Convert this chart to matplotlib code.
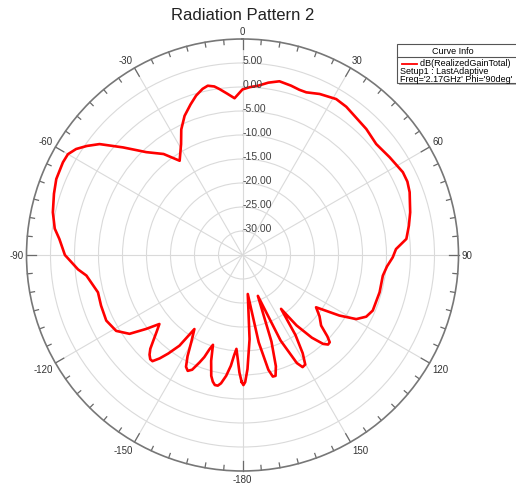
import numpy as np
import matplotlib.pyplot as plt
from matplotlib.patches import Rectangle
from matplotlib.lines import Line2D

plt.rcParams['font.family'] = ['Liberation Sans', 'DejaVu Sans']

# realized gain (dB) vs phi angle (deg)
theta_deg = [-179.6, -178.5, -177.3, -176.3, -175.2, -174.0, -172.3, -170.5, -169.3, -168.0, -166.8,
             -165.5, -163.5, -161.8, -160.7, -159.5, -158.2, -156.3, -154.7, -153.2, -151.5, -149.5,
             -147.0, -145.2, -143.0, -141.3, -139.7, -138.5, -137.0, -135.5, -134.2, -131.8, -129.7,
             -127.5, -124.9, -121.0, -115.7, -109.7, -104.5, -97.5,
             -95.0, -90.0, -85.0, -82.0, -77.3, -72.0, -67.8, -62.7, -60.0, -57.5, -55.0, -52.2, -48.0,
             -43.1, -38.0, -33.7, -29.0, -26.0, -22.6, -19.0, -16.2, -13.5, -11.6, -9.5, -7.9, -5.5,
             -2.9, 0.0, 2.5, 5.2, 8.5, 12.0, 16.0, 19.0, 21.4, 25.6, 31.0, 35.0, 38.0, 44.5, 50.3,
             56.4, 62.7, 66.0, 69.4, 75.7, 80.0, 84.4, 87.8, 90.9, 94.5, 98.4, 105.2, 113.1, 116.5,
             119.4, 122.0, 125.4, 128.5, 131.9, 133.8, 135.0, 136.3, 137.8, 140.0, 142.5, 144.4,
             146.5, 148.5, 150.2, 151.8, 153.3, 156.0, 159.4, 161.5, 163.3, 164.7, 166.0, 167.3,
             169.5, 172.3, 175.2, 177.5, 178.8, 179.6]
gain_db = [-8.6, -10.5, -13.5, -15.4, -14.0, -11.8, -9.6, -7.9, -7.3, -7.3, -7.9,
           -9.0, -12.0, -15.3, -14.2, -12.3, -10.9, -8.9, -8.3, -8.9, -11.0, -14.0,
           -16.6, -12.0, -9.3, -7.4, -6.0, -6.0, -6.6, -7.6, -8.9, -11.0, -12.5,
           -9.7, -6.3, -4.3, -3.5, -3.7, -3.9, -2.2,
           -0.6, 2.0, 3.3, 4.5, 5.5, 6.3, 6.9, 7.1, 7.0, 6.1, 4.6, 2.7, -1.5,
           -5.65, -8.3, -11.4, -8.6, -5.9, -3.6, -1.8, -0.4, 0.6, 1.0, 0.6, -0.1, -1.2,
           -2.3, -0.5, 0.0, 0.4, 1.3, 2.0, 1.7, 1.4, 1.4, 2.2, 2.9, 2.7, 2.3, 1.8, 1.2,
           1.8, 2.6, 2.6, 2.2, 1.05, 0.2, -0.7, -3.0, -3.7, -4.8, -5.45, -5.4, -5.5, -6.2,
           -7.8, -11.2, -16.2, -14.5, -13.0, -10.5, -9.3, -9.2, -10.0, -12.5, -16.5, -21.2,
           -15.0, -11.0, -8.7, -8.5, -9.8, -15.5, -25.9, -16.0, -10.8, -8.9, -8.9, -10.5,
           -16.5, -26.8, -17.4, -11.2, -8.5, -7.9]

angle_ticks = list(range(0, 360, 30))
angle_labels = ['0', '30', '60', '90', '120', '150', '-180', '-150', '-120', '-90', '-60', '-30']
ring_values = [-30, -25, -20, -15, -10, -5, 0, 5]
legend_lines = ['dB(RealizedGainTotal)', 'Setup1 : LastAdaptive', "Freq='2.17GHz' Phi='90deg'"]

W, H = 516, 485


def fx(px):
    return px / W


def fy(py):
    return 1 - py / H


fig = plt.figure(figsize=(W / 100, H / 100), dpi=100)
cx, cy, rad = 242.5, 256.0, 216.0
ax = fig.add_axes([fx(cx - rad), fy(cy + rad), 2 * rad / W, 2 * rad / H], projection='polar')
ax.set_theta_zero_location('N')
ax.set_theta_direction(-1)

# closed curve
th = np.radians(theta_deg + [theta_deg[0]])
gv = gain_db + [gain_db[0]]
ax.plot(th, gv, color='#ff0000', lw=1.9, zorder=5)

ax.set_xticks(np.radians(angle_ticks))
ax.set_xticklabels([''] * len(angle_ticks))
ax.set_yticks(ring_values)
ax.set_yticklabels([''] * len(ring_values))
ax.tick_params(axis='both', length=0)
ax.grid(True, color='#dadada', lw=0.8)
ax.spines['polar'].set_color('#777777')
ax.spines['polar'].set_linewidth(1.2)

# tick marks on the outer ring, every 5 degrees
for d in range(0, 360, 5):
    t = np.radians(d)
    ln = 2.0 if d % 30 == 0 else 1.0
    ax.plot([t, t], [10 - ln, 10], color='#6a6a6a', lw=0.9, clip_on=False)

# angle labels
for d, lab in zip(angle_ticks, angle_labels):
    t = np.radians(d)
    s, c = np.sin(t), np.cos(t)
    ha = 'left' if s > 0.1 else ('right' if s < -0.1 else 'center')
    va = 'bottom' if c > 0.1 else ('top' if c < -0.1 else 'center')
    ax.text(t, 10.6, lab, ha=ha, va=va, fontsize=7, color='#333333')

# ring labels along 0 deg
for v in ring_values:
    ax.text(0, v + 0.6, '%.2f' % v, ha='left', va='center', fontsize=7.5, color='#404040', zorder=6)

ax.set_ylim(-35, 10)

fig.text(fx(242.5), fy(15), 'Radiation Pattern 2', ha='center', va='center', fontsize=12, color='#222222')

# curve info box
fig.add_artist(Rectangle((fx(399), fy(85.5)), 130 / W, 38.5 / H, transform=fig.transFigure,
                         facecolor='#b5b5b5', edgecolor='none', zorder=9))
fig.add_artist(Rectangle((fx(397), fy(83.5)), 130 / W, 38.5 / H, transform=fig.transFigure,
                         facecolor='white', edgecolor='#555555', lw=0.8, zorder=10))
fig.add_artist(Line2D([fx(397), fx(527)], [fy(57.5), fy(57.5)], transform=fig.transFigure,
                      color='#555555', lw=0.8, zorder=11))
fig.text(fx(453), fy(51.5), 'Curve Info', ha='center', va='center', fontsize=6.5, zorder=11)
fig.add_artist(Line2D([fx(402), fx(417)], [fy(64.5), fy(64.5)], transform=fig.transFigure,
                      color='#ff0000', lw=1.3, zorder=11))
legend_text = ' ' * 8 + legend_lines[0] + '\n' + legend_lines[1] + '\n' + legend_lines[2]
fig.text(fx(400), fy(59.5), legend_text, ha='left', va='top', fontsize=6.5,
         linespacing=0.8, zorder=11)

fig.savefig('out.png', dpi=100, facecolor='white')
